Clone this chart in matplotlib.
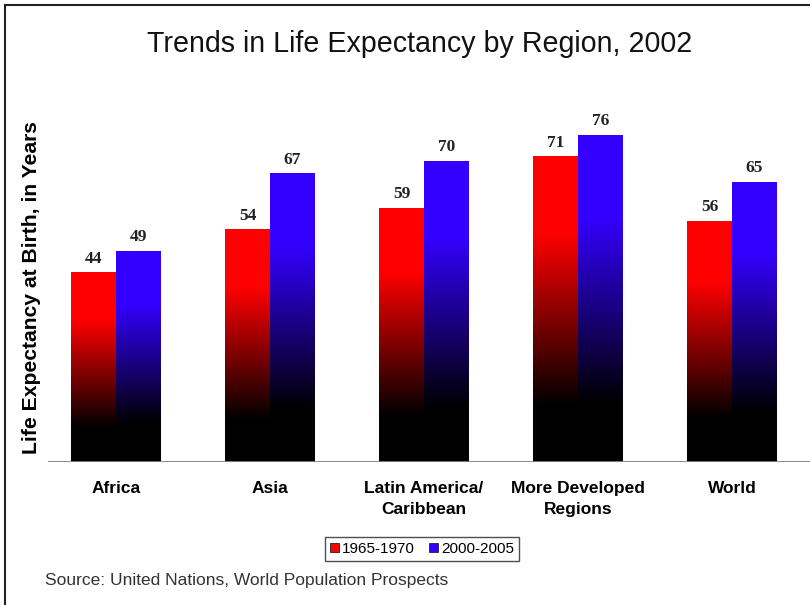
import numpy as np
import matplotlib
matplotlib.use("Agg")
import matplotlib.pyplot as plt
from matplotlib.patches import Patch
from matplotlib.lines import Line2D

categories = ["Africa", "Asia", "Latin America/\nCaribbean", "More Developed\nRegions", "World"]
series_names = ["1965-1970", "2000-2005"]
values_1965 = [44, 54, 59, 71, 56]
values_2000 = [49, 67, 70, 76, 65]
colors = [(1.0, 0.0, 0.0), (0.2, 0.0, 1.0)]

W, H = 810, 605
fig = plt.figure(figsize=(W / 100, H / 100), dpi=100)

def fx(px):
    return px / W

def fy(py):
    return 1 - py / H

# axes: x 48..810, y 100..462
AX_L, AX_R, AX_T, AX_B = 48, 810, 100, 462
ax = fig.add_axes([fx(AX_L), fy(AX_B), fx(AX_R) - fx(AX_L), fy(AX_T) - fy(AX_B)])
for s in ax.spines.values():
    s.set_visible(False)
ax.set_yticks([])
ax.tick_params(axis="x", length=0, pad=14)
x = np.arange(len(categories))
ax.set_xticks(x)
ax.set_xticklabels(categories, family=["Liberation Sans Narrow", "Liberation Sans", "DejaVu Sans"],
                   fontweight="bold", fontsize=12.5, linespacing=1.5)

bw = 0.29
n = 256
t = np.linspace(0, 1, n)
inten = np.clip((0.82 - t) / (0.82 - 0.25), 0, 1)

for si, vals in enumerate([values_1965, values_2000]):
    c = np.array(colors[si])
    img = (inten[:, None, None] * c[None, None, :])
    offset = (si - 0.5) * bw
    bars = ax.bar(x + offset, vals, width=bw, facecolor="none", edgecolor="none")
    for b, v in zip(bars, vals):
        x0 = b.get_x()
        ax.imshow(img, extent=[x0, x0 + bw, 0, v], aspect="auto", origin="upper",
                  interpolation="bilinear", zorder=2)
        ax.annotate(str(v), (x0 + bw / 2, v), xytext=(0, 4.5), textcoords="offset points",
                    ha="center", va="bottom", family=["Liberation Serif", "DejaVu Serif"],
                    fontweight="bold", fontsize=12.5, color="#222222")

ax.set_xlim(-0.4416, 4.506)
ax.set_ylim(0, 84.2)
ax.axhline(0, color="#808080", lw=2, zorder=3)

ax.set_ylabel("Life Expectancy at Birth, in Years", family=["Liberation Sans", "DejaVu Sans"],
              fontweight="bold", fontsize=15.2)
ax.yaxis.set_label_coords((41 - AX_L) / (AX_R - AX_L), (AX_B - 288) / (AX_B - AX_T))

fig.text(fx(420), fy(44), "Trends in Life Expectancy by Region, 2002", ha="center", va="center",
         family=["Liberation Sans", "DejaVu Sans"], fontsize=20.6, color="#111111")

fig.text(fx(45), fy(581), "Source: United Nations, World Population Prospects", ha="left", va="center",
         family=["Liberation Sans", "DejaVu Sans"], fontsize=12.5, color="#333333")

handles = [Patch(facecolor=colors[0], edgecolor="#222222", lw=0.6),
           Patch(facecolor=colors[1], edgecolor="#222222", lw=0.6)]
leg = fig.legend(handles, series_names, loc="center", bbox_to_anchor=(fx(422), fy(549)),
                 ncol=2, frameon=True, fancybox=False, edgecolor="#222222",
                 prop={"family": ["Liberation Sans Narrow", "Liberation Sans", "DejaVu Sans"], "size": 11},
                 handlelength=0.6, handleheight=0.6, handletextpad=0.2, columnspacing=0.9,
                 borderpad=0.35, borderaxespad=0)
leg.get_frame().set_linewidth(1.0)

# outer border (top and left)
fig.add_artist(Line2D([fx(5), fx(5)], [0, fy(5)], color="#222222", lw=1.5))
fig.add_artist(Line2D([fx(5), 1], [fy(5), fy(5)], color="#222222", lw=1.5))

fig.savefig("out.png", dpi=100)
